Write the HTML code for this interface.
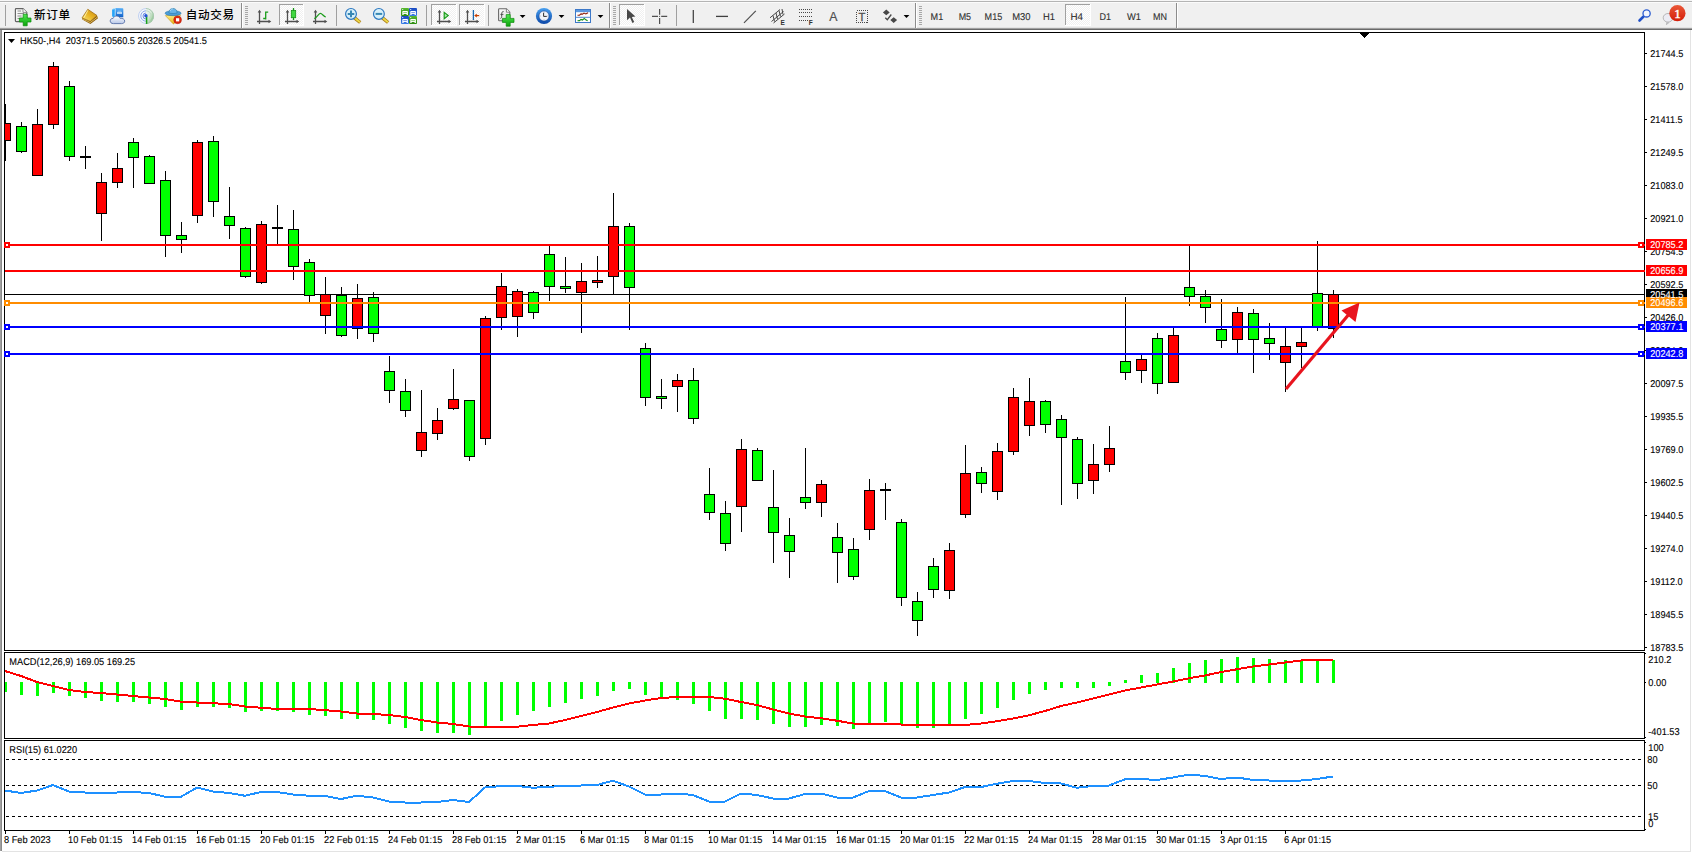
<!DOCTYPE html>
<html lang="zh"><head><meta charset="utf-8"><title>HK50-,H4</title>
<style>
html,body{margin:0;padding:0;background:#fff;overflow:hidden}
body{width:1692px;height:853px;position:relative;font-family:"Liberation Sans", "Noto Sans CJK SC", sans-serif}
svg{position:absolute;left:0;top:0;display:block}
text{font-family:"Liberation Sans", "Noto Sans CJK SC", sans-serif}
.t{font-size:9.9px;fill:#000;stroke:#000;stroke-width:.1px;text-rendering:geometricPrecision}
.tb{font-size:9.9px;fill:#303030;stroke:#303030;stroke-width:.12px;text-rendering:geometricPrecision}
.cn{font-size:11.6px;fill:#000;font-weight:500}
.w{fill:#fff;stroke:#fff}
</style></head><body>
<svg width="1692" height="853" viewBox="0 0 1692 853">

<g shape-rendering="crispEdges">
<rect x="0" y="0" width="1692" height="853" fill="#fff"/>
<rect x="0" y="0" width="1692" height="30" fill="#f0f0f0"/>
<rect x="0" y="0" width="1692" height="1" fill="#f7f7f7"/>
<rect x="0" y="1" width="1692" height="1" fill="#b4b4b4"/>
<rect x="0" y="2" width="1692" height="1" fill="#fbfbfb"/>
<rect x="0" y="27" width="1692" height="1" fill="#e3e3e3"/>
<rect x="0" y="28" width="1692" height="1" fill="#a0a0a0"/>
<rect x="0" y="29" width="1692" height="1" fill="#696969"/>
<rect x="0" y="30" width="2" height="823" fill="#a0a0a0"/>
<rect x="1" y="30" width="1" height="823" fill="#8a8a8a"/>
<rect x="1690" y="30" width="1" height="821" fill="#e3e3e3"/>
<rect x="2" y="851" width="1689" height="1" fill="#e3e3e3"/><rect x="0" y="851" width="2" height="2" fill="#fff"/>
<rect x="4" y="32" width="1641" height="1" fill="#000"/>
<rect x="4" y="650" width="1641" height="1" fill="#000"/>
<rect x="4" y="32" width="1" height="619" fill="#000"/>
<rect x="1644" y="32" width="1" height="619" fill="#000"/>
<rect x="4" y="652" width="1641" height="1" fill="#000"/>
<rect x="4" y="738" width="1641" height="1" fill="#000"/>
<rect x="4" y="652" width="1" height="87" fill="#000"/>
<rect x="1644" y="652" width="1" height="87" fill="#000"/>
<rect x="4" y="740" width="1641" height="1" fill="#000"/>
<rect x="4" y="830" width="1641" height="1" fill="#000"/>
<rect x="4" y="740" width="1" height="91" fill="#000"/>
<rect x="1644" y="740" width="1" height="91" fill="#000"/>
<rect x="1645" y="53" width="2" height="1" fill="#000"/>
<rect x="1645" y="86" width="2" height="1" fill="#000"/>
<rect x="1645" y="119" width="2" height="1" fill="#000"/>
<rect x="1645" y="152" width="2" height="1" fill="#000"/>
<rect x="1645" y="185" width="2" height="1" fill="#000"/>
<rect x="1645" y="218" width="2" height="1" fill="#000"/>
<rect x="1645" y="251" width="2" height="1" fill="#000"/>
<rect x="1645" y="284" width="2" height="1" fill="#000"/>
<rect x="1645" y="317" width="2" height="1" fill="#000"/>
<rect x="1645" y="350" width="2" height="1" fill="#000"/>
<rect x="1645" y="383" width="2" height="1" fill="#000"/>
<rect x="1645" y="416" width="2" height="1" fill="#000"/>
<rect x="1645" y="449" width="2" height="1" fill="#000"/>
<rect x="1645" y="482" width="2" height="1" fill="#000"/>
<rect x="1645" y="515" width="2" height="1" fill="#000"/>
<rect x="1645" y="548" width="2" height="1" fill="#000"/>
<rect x="1645" y="581" width="2" height="1" fill="#000"/>
<rect x="1645" y="614" width="2" height="1" fill="#000"/>
<rect x="1645" y="647" width="2" height="1" fill="#000"/>
<rect x="1645" y="653" width="1" height="1" fill="#000"/>
<rect x="1645" y="682" width="1" height="1" fill="#000"/>
<rect x="1645" y="737" width="1" height="1" fill="#000"/>
<rect x="1645" y="742" width="1" height="1" fill="#000"/>
<rect x="1645" y="829" width="1" height="1" fill="#000"/>
<rect x="5" y="831" width="1" height="3" fill="#000"/>
<rect x="69" y="831" width="1" height="3" fill="#000"/>
<rect x="133" y="831" width="1" height="3" fill="#000"/>
<rect x="197" y="831" width="1" height="3" fill="#000"/>
<rect x="261" y="831" width="1" height="3" fill="#000"/>
<rect x="325" y="831" width="1" height="3" fill="#000"/>
<rect x="389" y="831" width="1" height="3" fill="#000"/>
<rect x="453" y="831" width="1" height="3" fill="#000"/>
<rect x="517" y="831" width="1" height="3" fill="#000"/>
<rect x="581" y="831" width="1" height="3" fill="#000"/>
<rect x="645" y="831" width="1" height="3" fill="#000"/>
<rect x="709" y="831" width="1" height="3" fill="#000"/>
<rect x="773" y="831" width="1" height="3" fill="#000"/>
<rect x="837" y="831" width="1" height="3" fill="#000"/>
<rect x="901" y="831" width="1" height="3" fill="#000"/>
<rect x="965" y="831" width="1" height="3" fill="#000"/>
<rect x="1029" y="831" width="1" height="3" fill="#000"/>
<rect x="1093" y="831" width="1" height="3" fill="#000"/>
<rect x="1157" y="831" width="1" height="3" fill="#000"/>
<rect x="1221" y="831" width="1" height="3" fill="#000"/>
<rect x="1285" y="831" width="1" height="3" fill="#000"/>
<rect x="5" y="294" width="1639" height="1" fill="#000"/>
<rect x="5" y="104" width="1" height="57" fill="#000"/>
<rect x="5" y="123" width="6" height="18" fill="#000"/>
<rect x="5" y="124" width="5" height="16" fill="#ff0000"/>
<rect x="21" y="122" width="1" height="31" fill="#000"/>
<rect x="16" y="126" width="11" height="26" fill="#000"/>
<rect x="17" y="127" width="9" height="24" fill="#00ff00"/>
<rect x="37" y="109" width="1" height="67" fill="#000"/>
<rect x="32" y="124" width="11" height="52" fill="#000"/>
<rect x="33" y="125" width="9" height="50" fill="#ff0000"/>
<rect x="53" y="62" width="1" height="67" fill="#000"/>
<rect x="48" y="66" width="11" height="59" fill="#000"/>
<rect x="49" y="67" width="9" height="57" fill="#ff0000"/>
<rect x="69" y="81" width="1" height="80" fill="#000"/>
<rect x="64" y="86" width="11" height="71" fill="#000"/>
<rect x="65" y="87" width="9" height="69" fill="#00ff00"/>
<rect x="85" y="146" width="1" height="23" fill="#000"/>
<rect x="80" y="156" width="11" height="2" fill="#000"/>
<rect x="101" y="173" width="1" height="68" fill="#000"/>
<rect x="96" y="182" width="11" height="32" fill="#000"/>
<rect x="97" y="183" width="9" height="30" fill="#ff0000"/>
<rect x="117" y="153" width="1" height="35" fill="#000"/>
<rect x="112" y="168" width="11" height="15" fill="#000"/>
<rect x="113" y="169" width="9" height="13" fill="#ff0000"/>
<rect x="133" y="138" width="1" height="50" fill="#000"/>
<rect x="128" y="142" width="11" height="16" fill="#000"/>
<rect x="129" y="143" width="9" height="14" fill="#00ff00"/>
<rect x="149" y="155" width="1" height="29" fill="#000"/>
<rect x="144" y="156" width="11" height="28" fill="#000"/>
<rect x="145" y="157" width="9" height="26" fill="#00ff00"/>
<rect x="165" y="171" width="1" height="86" fill="#000"/>
<rect x="160" y="180" width="11" height="56" fill="#000"/>
<rect x="161" y="181" width="9" height="54" fill="#00ff00"/>
<rect x="181" y="222" width="1" height="31" fill="#000"/>
<rect x="176" y="235" width="11" height="5" fill="#000"/>
<rect x="177" y="236" width="9" height="3" fill="#00ff00"/>
<rect x="197" y="140" width="1" height="83" fill="#000"/>
<rect x="192" y="142" width="11" height="74" fill="#000"/>
<rect x="193" y="143" width="9" height="72" fill="#ff0000"/>
<rect x="213" y="136" width="1" height="81" fill="#000"/>
<rect x="208" y="141" width="11" height="61" fill="#000"/>
<rect x="209" y="142" width="9" height="59" fill="#00ff00"/>
<rect x="229" y="187" width="1" height="52" fill="#000"/>
<rect x="224" y="216" width="11" height="10" fill="#000"/>
<rect x="225" y="217" width="9" height="8" fill="#00ff00"/>
<rect x="245" y="227" width="1" height="51" fill="#000"/>
<rect x="240" y="228" width="11" height="49" fill="#000"/>
<rect x="241" y="229" width="9" height="47" fill="#00ff00"/>
<rect x="261" y="221" width="1" height="63" fill="#000"/>
<rect x="256" y="224" width="11" height="59" fill="#000"/>
<rect x="257" y="225" width="9" height="57" fill="#ff0000"/>
<rect x="277" y="205" width="1" height="39" fill="#000"/>
<rect x="272" y="227" width="11" height="2" fill="#000"/>
<rect x="293" y="210" width="1" height="70" fill="#000"/>
<rect x="288" y="229" width="11" height="38" fill="#000"/>
<rect x="289" y="230" width="9" height="36" fill="#00ff00"/>
<rect x="309" y="259" width="1" height="43" fill="#000"/>
<rect x="304" y="262" width="11" height="34" fill="#000"/>
<rect x="305" y="263" width="9" height="32" fill="#00ff00"/>
<rect x="325" y="277" width="1" height="57" fill="#000"/>
<rect x="320" y="294" width="11" height="22" fill="#000"/>
<rect x="321" y="295" width="9" height="20" fill="#ff0000"/>
<rect x="341" y="287" width="1" height="50" fill="#000"/>
<rect x="336" y="295" width="11" height="41" fill="#000"/>
<rect x="337" y="296" width="9" height="39" fill="#00ff00"/>
<rect x="357" y="284" width="1" height="55" fill="#000"/>
<rect x="352" y="298" width="11" height="31" fill="#000"/>
<rect x="353" y="299" width="9" height="29" fill="#ff0000"/>
<rect x="373" y="292" width="1" height="50" fill="#000"/>
<rect x="368" y="297" width="11" height="37" fill="#000"/>
<rect x="369" y="298" width="9" height="35" fill="#00ff00"/>
<rect x="389" y="356" width="1" height="47" fill="#000"/>
<rect x="384" y="371" width="11" height="20" fill="#000"/>
<rect x="385" y="372" width="9" height="18" fill="#00ff00"/>
<rect x="405" y="379" width="1" height="38" fill="#000"/>
<rect x="400" y="391" width="11" height="20" fill="#000"/>
<rect x="401" y="392" width="9" height="18" fill="#00ff00"/>
<rect x="421" y="390" width="1" height="67" fill="#000"/>
<rect x="416" y="432" width="11" height="19" fill="#000"/>
<rect x="417" y="433" width="9" height="17" fill="#ff0000"/>
<rect x="437" y="408" width="1" height="32" fill="#000"/>
<rect x="432" y="420" width="11" height="14" fill="#000"/>
<rect x="433" y="421" width="9" height="12" fill="#ff0000"/>
<rect x="453" y="369" width="1" height="41" fill="#000"/>
<rect x="448" y="399" width="11" height="10" fill="#000"/>
<rect x="449" y="400" width="9" height="8" fill="#ff0000"/>
<rect x="469" y="400" width="1" height="61" fill="#000"/>
<rect x="464" y="400" width="11" height="57" fill="#000"/>
<rect x="465" y="401" width="9" height="55" fill="#00ff00"/>
<rect x="485" y="316" width="1" height="129" fill="#000"/>
<rect x="480" y="318" width="11" height="121" fill="#000"/>
<rect x="481" y="319" width="9" height="119" fill="#ff0000"/>
<rect x="501" y="273" width="1" height="57" fill="#000"/>
<rect x="496" y="286" width="11" height="32" fill="#000"/>
<rect x="497" y="287" width="9" height="30" fill="#ff0000"/>
<rect x="517" y="289" width="1" height="48" fill="#000"/>
<rect x="512" y="291" width="11" height="26" fill="#000"/>
<rect x="513" y="292" width="9" height="24" fill="#ff0000"/>
<rect x="533" y="291" width="1" height="28" fill="#000"/>
<rect x="528" y="292" width="11" height="21" fill="#000"/>
<rect x="529" y="293" width="9" height="19" fill="#00ff00"/>
<rect x="549" y="246" width="1" height="55" fill="#000"/>
<rect x="544" y="254" width="11" height="33" fill="#000"/>
<rect x="545" y="255" width="9" height="31" fill="#00ff00"/>
<rect x="565" y="257" width="1" height="36" fill="#000"/>
<rect x="560" y="286" width="11" height="3" fill="#000"/>
<rect x="561" y="287" width="9" height="1" fill="#00ff00"/>
<rect x="581" y="263" width="1" height="70" fill="#000"/>
<rect x="576" y="281" width="11" height="12" fill="#000"/>
<rect x="577" y="282" width="9" height="10" fill="#ff0000"/>
<rect x="597" y="256" width="1" height="32" fill="#000"/>
<rect x="592" y="280" width="11" height="3" fill="#000"/>
<rect x="593" y="281" width="9" height="1" fill="#ff0000"/>
<rect x="613" y="193" width="1" height="101" fill="#000"/>
<rect x="608" y="226" width="11" height="51" fill="#000"/>
<rect x="609" y="227" width="9" height="49" fill="#ff0000"/>
<rect x="629" y="223" width="1" height="107" fill="#000"/>
<rect x="624" y="226" width="11" height="62" fill="#000"/>
<rect x="625" y="227" width="9" height="60" fill="#00ff00"/>
<rect x="645" y="343" width="1" height="63" fill="#000"/>
<rect x="640" y="348" width="11" height="50" fill="#000"/>
<rect x="641" y="349" width="9" height="48" fill="#00ff00"/>
<rect x="661" y="379" width="1" height="30" fill="#000"/>
<rect x="656" y="396" width="11" height="3" fill="#000"/>
<rect x="657" y="397" width="9" height="1" fill="#00ff00"/>
<rect x="677" y="374" width="1" height="38" fill="#000"/>
<rect x="672" y="380" width="11" height="7" fill="#000"/>
<rect x="673" y="381" width="9" height="5" fill="#ff0000"/>
<rect x="693" y="368" width="1" height="56" fill="#000"/>
<rect x="688" y="380" width="11" height="39" fill="#000"/>
<rect x="689" y="381" width="9" height="37" fill="#00ff00"/>
<rect x="709" y="468" width="1" height="52" fill="#000"/>
<rect x="704" y="494" width="11" height="19" fill="#000"/>
<rect x="705" y="495" width="9" height="17" fill="#00ff00"/>
<rect x="725" y="501" width="1" height="50" fill="#000"/>
<rect x="720" y="513" width="11" height="31" fill="#000"/>
<rect x="721" y="514" width="9" height="29" fill="#00ff00"/>
<rect x="741" y="439" width="1" height="93" fill="#000"/>
<rect x="736" y="449" width="11" height="58" fill="#000"/>
<rect x="737" y="450" width="9" height="56" fill="#ff0000"/>
<rect x="757" y="448" width="1" height="33" fill="#000"/>
<rect x="752" y="450" width="11" height="31" fill="#000"/>
<rect x="753" y="451" width="9" height="29" fill="#00ff00"/>
<rect x="773" y="470" width="1" height="93" fill="#000"/>
<rect x="768" y="507" width="11" height="26" fill="#000"/>
<rect x="769" y="508" width="9" height="24" fill="#00ff00"/>
<rect x="789" y="518" width="1" height="60" fill="#000"/>
<rect x="784" y="535" width="11" height="17" fill="#000"/>
<rect x="785" y="536" width="9" height="15" fill="#00ff00"/>
<rect x="805" y="448" width="1" height="61" fill="#000"/>
<rect x="800" y="497" width="11" height="6" fill="#000"/>
<rect x="801" y="498" width="9" height="4" fill="#00ff00"/>
<rect x="821" y="480" width="1" height="37" fill="#000"/>
<rect x="816" y="484" width="11" height="19" fill="#000"/>
<rect x="817" y="485" width="9" height="17" fill="#ff0000"/>
<rect x="837" y="523" width="1" height="60" fill="#000"/>
<rect x="832" y="537" width="11" height="16" fill="#000"/>
<rect x="833" y="538" width="9" height="14" fill="#00ff00"/>
<rect x="853" y="538" width="1" height="42" fill="#000"/>
<rect x="848" y="549" width="11" height="28" fill="#000"/>
<rect x="849" y="550" width="9" height="26" fill="#00ff00"/>
<rect x="869" y="479" width="1" height="61" fill="#000"/>
<rect x="864" y="490" width="11" height="40" fill="#000"/>
<rect x="865" y="491" width="9" height="38" fill="#ff0000"/>
<rect x="885" y="483" width="1" height="37" fill="#000"/>
<rect x="880" y="489" width="11" height="2" fill="#000"/>
<rect x="901" y="519" width="1" height="87" fill="#000"/>
<rect x="896" y="522" width="11" height="76" fill="#000"/>
<rect x="897" y="523" width="9" height="74" fill="#00ff00"/>
<rect x="917" y="592" width="1" height="44" fill="#000"/>
<rect x="912" y="601" width="11" height="20" fill="#000"/>
<rect x="913" y="602" width="9" height="18" fill="#00ff00"/>
<rect x="933" y="558" width="1" height="40" fill="#000"/>
<rect x="928" y="566" width="11" height="24" fill="#000"/>
<rect x="929" y="567" width="9" height="22" fill="#00ff00"/>
<rect x="949" y="543" width="1" height="56" fill="#000"/>
<rect x="944" y="550" width="11" height="41" fill="#000"/>
<rect x="945" y="551" width="9" height="39" fill="#ff0000"/>
<rect x="965" y="445" width="1" height="73" fill="#000"/>
<rect x="960" y="473" width="11" height="42" fill="#000"/>
<rect x="961" y="474" width="9" height="40" fill="#ff0000"/>
<rect x="981" y="467" width="1" height="26" fill="#000"/>
<rect x="976" y="472" width="11" height="12" fill="#000"/>
<rect x="977" y="473" width="9" height="10" fill="#00ff00"/>
<rect x="997" y="443" width="1" height="57" fill="#000"/>
<rect x="992" y="451" width="11" height="41" fill="#000"/>
<rect x="993" y="452" width="9" height="39" fill="#ff0000"/>
<rect x="1013" y="388" width="1" height="67" fill="#000"/>
<rect x="1008" y="397" width="11" height="55" fill="#000"/>
<rect x="1009" y="398" width="9" height="53" fill="#ff0000"/>
<rect x="1029" y="378" width="1" height="58" fill="#000"/>
<rect x="1024" y="401" width="11" height="25" fill="#000"/>
<rect x="1025" y="402" width="9" height="23" fill="#ff0000"/>
<rect x="1045" y="400" width="1" height="33" fill="#000"/>
<rect x="1040" y="401" width="11" height="24" fill="#000"/>
<rect x="1041" y="402" width="9" height="22" fill="#00ff00"/>
<rect x="1061" y="415" width="1" height="90" fill="#000"/>
<rect x="1056" y="419" width="11" height="19" fill="#000"/>
<rect x="1057" y="420" width="9" height="17" fill="#00ff00"/>
<rect x="1077" y="437" width="1" height="62" fill="#000"/>
<rect x="1072" y="439" width="11" height="45" fill="#000"/>
<rect x="1073" y="440" width="9" height="43" fill="#00ff00"/>
<rect x="1093" y="444" width="1" height="50" fill="#000"/>
<rect x="1088" y="464" width="11" height="17" fill="#000"/>
<rect x="1089" y="465" width="9" height="15" fill="#ff0000"/>
<rect x="1109" y="426" width="1" height="46" fill="#000"/>
<rect x="1104" y="448" width="11" height="17" fill="#000"/>
<rect x="1105" y="449" width="9" height="15" fill="#ff0000"/>
<rect x="1125" y="297" width="1" height="83" fill="#000"/>
<rect x="1120" y="361" width="11" height="12" fill="#000"/>
<rect x="1121" y="362" width="9" height="10" fill="#00ff00"/>
<rect x="1141" y="355" width="1" height="28" fill="#000"/>
<rect x="1136" y="359" width="11" height="12" fill="#000"/>
<rect x="1137" y="360" width="9" height="10" fill="#ff0000"/>
<rect x="1157" y="333" width="1" height="61" fill="#000"/>
<rect x="1152" y="338" width="11" height="46" fill="#000"/>
<rect x="1153" y="339" width="9" height="44" fill="#00ff00"/>
<rect x="1173" y="328" width="1" height="55" fill="#000"/>
<rect x="1168" y="335" width="11" height="48" fill="#000"/>
<rect x="1169" y="336" width="9" height="46" fill="#ff0000"/>
<rect x="1189" y="244" width="1" height="62" fill="#000"/>
<rect x="1184" y="287" width="11" height="10" fill="#000"/>
<rect x="1185" y="288" width="9" height="8" fill="#00ff00"/>
<rect x="1205" y="290" width="1" height="33" fill="#000"/>
<rect x="1200" y="296" width="11" height="12" fill="#000"/>
<rect x="1201" y="297" width="9" height="10" fill="#00ff00"/>
<rect x="1221" y="299" width="1" height="49" fill="#000"/>
<rect x="1216" y="329" width="11" height="12" fill="#000"/>
<rect x="1217" y="330" width="9" height="10" fill="#00ff00"/>
<rect x="1237" y="307" width="1" height="46" fill="#000"/>
<rect x="1232" y="312" width="11" height="28" fill="#000"/>
<rect x="1233" y="313" width="9" height="26" fill="#ff0000"/>
<rect x="1253" y="309" width="1" height="64" fill="#000"/>
<rect x="1248" y="313" width="11" height="27" fill="#000"/>
<rect x="1249" y="314" width="9" height="25" fill="#00ff00"/>
<rect x="1269" y="323" width="1" height="37" fill="#000"/>
<rect x="1264" y="338" width="11" height="6" fill="#000"/>
<rect x="1265" y="339" width="9" height="4" fill="#00ff00"/>
<rect x="1285" y="327" width="1" height="65" fill="#000"/>
<rect x="1280" y="346" width="11" height="17" fill="#000"/>
<rect x="1281" y="347" width="9" height="15" fill="#ff0000"/>
<rect x="1301" y="328" width="1" height="40" fill="#000"/>
<rect x="1296" y="342" width="11" height="5" fill="#000"/>
<rect x="1297" y="343" width="9" height="3" fill="#ff0000"/>
<rect x="1317" y="241" width="1" height="90" fill="#000"/>
<rect x="1312" y="293" width="11" height="34" fill="#000"/>
<rect x="1313" y="294" width="9" height="32" fill="#00ff00"/>
<rect x="1333" y="290" width="1" height="48" fill="#000"/>
<rect x="1328" y="294" width="11" height="35" fill="#000"/>
<rect x="1329" y="295" width="9" height="33" fill="#ff0000"/>
<rect x="5" y="244" width="1640" height="2" fill="#ff0000"/>
<rect x="4" y="242" width="6" height="6" fill="#ff0000"/>
<rect x="6" y="244" width="2" height="2" fill="#fff"/>
<rect x="1638" y="242" width="6" height="6" fill="#ff0000"/>
<rect x="1640" y="244" width="2" height="2" fill="#fff"/>
<rect x="5" y="270" width="1640" height="2" fill="#ff0000"/>
<rect x="5" y="302" width="1640" height="2" fill="#ff8c00"/>
<rect x="4" y="300" width="6" height="6" fill="#ff8c00"/>
<rect x="6" y="302" width="2" height="2" fill="#fff"/>
<rect x="1638" y="300" width="6" height="6" fill="#ff8c00"/>
<rect x="1640" y="302" width="2" height="2" fill="#fff"/>
<rect x="5" y="326" width="1640" height="2" fill="#0000ff"/>
<rect x="4" y="324" width="6" height="6" fill="#0000ff"/>
<rect x="6" y="326" width="2" height="2" fill="#fff"/>
<rect x="1638" y="324" width="6" height="6" fill="#0000ff"/>
<rect x="1640" y="326" width="2" height="2" fill="#fff"/>
<rect x="5" y="353" width="1640" height="2" fill="#0000ff"/>
<rect x="4" y="351" width="6" height="6" fill="#0000ff"/>
<rect x="6" y="353" width="2" height="2" fill="#fff"/>
<rect x="1638" y="351" width="6" height="6" fill="#0000ff"/>
<rect x="1640" y="353" width="2" height="2" fill="#fff"/>
<rect x="5" y="682" width="2" height="10" fill="#00ff00"/>
<rect x="20" y="682" width="3" height="13" fill="#00ff00"/>
<rect x="36" y="682" width="3" height="14" fill="#00ff00"/>
<rect x="52" y="682" width="3" height="11" fill="#00ff00"/>
<rect x="68" y="682" width="3" height="14" fill="#00ff00"/>
<rect x="84" y="682" width="3" height="16" fill="#00ff00"/>
<rect x="100" y="682" width="3" height="19" fill="#00ff00"/>
<rect x="116" y="682" width="3" height="20" fill="#00ff00"/>
<rect x="132" y="682" width="3" height="20" fill="#00ff00"/>
<rect x="148" y="682" width="3" height="22" fill="#00ff00"/>
<rect x="164" y="682" width="3" height="25" fill="#00ff00"/>
<rect x="180" y="682" width="3" height="28" fill="#00ff00"/>
<rect x="196" y="682" width="3" height="25" fill="#00ff00"/>
<rect x="212" y="682" width="3" height="25" fill="#00ff00"/>
<rect x="228" y="682" width="3" height="26" fill="#00ff00"/>
<rect x="244" y="682" width="3" height="30" fill="#00ff00"/>
<rect x="260" y="682" width="3" height="29" fill="#00ff00"/>
<rect x="276" y="682" width="3" height="29" fill="#00ff00"/>
<rect x="292" y="682" width="3" height="30" fill="#00ff00"/>
<rect x="308" y="682" width="3" height="33" fill="#00ff00"/>
<rect x="324" y="682" width="3" height="34" fill="#00ff00"/>
<rect x="340" y="682" width="3" height="37" fill="#00ff00"/>
<rect x="356" y="682" width="3" height="37" fill="#00ff00"/>
<rect x="372" y="682" width="3" height="38" fill="#00ff00"/>
<rect x="388" y="682" width="3" height="42" fill="#00ff00"/>
<rect x="404" y="682" width="3" height="46" fill="#00ff00"/>
<rect x="420" y="682" width="3" height="49" fill="#00ff00"/>
<rect x="436" y="682" width="3" height="51" fill="#00ff00"/>
<rect x="452" y="682" width="3" height="51" fill="#00ff00"/>
<rect x="468" y="682" width="3" height="53" fill="#00ff00"/>
<rect x="484" y="682" width="3" height="44" fill="#00ff00"/>
<rect x="500" y="682" width="3" height="39" fill="#00ff00"/>
<rect x="516" y="682" width="3" height="33" fill="#00ff00"/>
<rect x="532" y="682" width="3" height="29" fill="#00ff00"/>
<rect x="548" y="682" width="3" height="25" fill="#00ff00"/>
<rect x="564" y="682" width="3" height="21" fill="#00ff00"/>
<rect x="580" y="682" width="3" height="17" fill="#00ff00"/>
<rect x="596" y="682" width="3" height="14" fill="#00ff00"/>
<rect x="612" y="682" width="3" height="9" fill="#00ff00"/>
<rect x="628" y="682" width="3" height="7" fill="#00ff00"/>
<rect x="644" y="682" width="3" height="13" fill="#00ff00"/>
<rect x="660" y="682" width="3" height="16" fill="#00ff00"/>
<rect x="676" y="682" width="3" height="18" fill="#00ff00"/>
<rect x="692" y="682" width="3" height="22" fill="#00ff00"/>
<rect x="708" y="682" width="3" height="29" fill="#00ff00"/>
<rect x="724" y="682" width="3" height="37" fill="#00ff00"/>
<rect x="740" y="682" width="3" height="37" fill="#00ff00"/>
<rect x="756" y="682" width="3" height="38" fill="#00ff00"/>
<rect x="772" y="682" width="3" height="42" fill="#00ff00"/>
<rect x="788" y="682" width="3" height="45" fill="#00ff00"/>
<rect x="804" y="682" width="3" height="45" fill="#00ff00"/>
<rect x="820" y="682" width="3" height="43" fill="#00ff00"/>
<rect x="836" y="682" width="3" height="44" fill="#00ff00"/>
<rect x="852" y="682" width="3" height="47" fill="#00ff00"/>
<rect x="868" y="682" width="3" height="41" fill="#00ff00"/>
<rect x="884" y="682" width="3" height="40" fill="#00ff00"/>
<rect x="900" y="682" width="3" height="42" fill="#00ff00"/>
<rect x="916" y="682" width="3" height="46" fill="#00ff00"/>
<rect x="932" y="682" width="3" height="46" fill="#00ff00"/>
<rect x="948" y="682" width="3" height="42" fill="#00ff00"/>
<rect x="964" y="682" width="3" height="37" fill="#00ff00"/>
<rect x="980" y="682" width="3" height="32" fill="#00ff00"/>
<rect x="996" y="682" width="3" height="26" fill="#00ff00"/>
<rect x="1012" y="682" width="3" height="18" fill="#00ff00"/>
<rect x="1028" y="682" width="3" height="12" fill="#00ff00"/>
<rect x="1044" y="682" width="3" height="8" fill="#00ff00"/>
<rect x="1060" y="682" width="3" height="6" fill="#00ff00"/>
<rect x="1076" y="682" width="3" height="6" fill="#00ff00"/>
<rect x="1092" y="682" width="3" height="6" fill="#00ff00"/>
<rect x="1108" y="682" width="3" height="4" fill="#00ff00"/>
<rect x="1124" y="680" width="3" height="3" fill="#00ff00"/>
<rect x="1140" y="675" width="3" height="8" fill="#00ff00"/>
<rect x="1156" y="673" width="3" height="10" fill="#00ff00"/>
<rect x="1172" y="668" width="3" height="15" fill="#00ff00"/>
<rect x="1188" y="663" width="3" height="20" fill="#00ff00"/>
<rect x="1204" y="660" width="3" height="23" fill="#00ff00"/>
<rect x="1220" y="659" width="3" height="24" fill="#00ff00"/>
<rect x="1236" y="657" width="3" height="26" fill="#00ff00"/>
<rect x="1252" y="658" width="3" height="25" fill="#00ff00"/>
<rect x="1268" y="659" width="3" height="24" fill="#00ff00"/>
<rect x="1284" y="660" width="3" height="23" fill="#00ff00"/>
<rect x="1300" y="660" width="3" height="23" fill="#00ff00"/>
<rect x="1316" y="660" width="3" height="23" fill="#00ff00"/>
<rect x="1332" y="660" width="3" height="23" fill="#00ff00"/>
<path d="M6 759.5H1644" stroke="#000" stroke-width="1" stroke-dasharray="3 3" fill="none"/>
<path d="M6 785.5H1644" stroke="#000" stroke-width="1" stroke-dasharray="3 3" fill="none"/>
<path d="M6 816.5H1644" stroke="#000" stroke-width="1" stroke-dasharray="3 3" fill="none"/>
</g>
<polyline points="5,671 21,676 37,682 53,686 69,690 85,692 101,693 117,694.5 133,696 149,697.5 165,699 181,701.75 197,702.5 213,703.3 229,704 245,706.5 261,707.75 277,709 293,709 309,709 325,710.2 341,711.5 357,713.5 373,714 389,715 405,717 421,720 437,722.5 453,724 469,726.5 485,726.75 501,726.75 517,726.75 533,725 549,723.5 565,720 581,716 597,712 613,707.5 629,703.5 645,700.5 661,698 677,697 693,696.75 709,697 725,698.75 741,702 757,705 773,709.5 789,713.5 805,716.5 821,718.25 837,720.75 853,723.5 869,723.75 885,723.75 901,724.5 917,725 933,725 949,725 965,725 981,723.5 997,721.25 1013,718.5 1029,715.25 1045,711 1061,706 1077,702.5 1093,698.5 1109,694.5 1125,690.5 1141,687.5 1157,684.5 1173,681.5 1189,678.25 1205,675.5 1221,672 1237,669.25 1253,666.5 1269,664.5 1285,662.5 1301,660.5 1317,660 1333,660" fill="none" stroke="#ff0000" stroke-width="2" shape-rendering="crispEdges"/>
<polyline points="5,790.5 21,793 37,790.5 53,785 69,791.5 85,792.5 101,793 117,792.5 133,792 149,793 165,796.75 181,796.75 197,787.5 213,791.5 229,793 245,795.75 261,792 277,792 293,794.5 309,795.75 325,796 341,799 357,795.75 373,797.5 389,801.5 405,802.5 421,802.5 437,802 453,800 469,802 485,787.5 501,786 517,786 533,787.75 549,786.75 565,786 581,785.5 597,785 613,780.75 629,786.5 645,794.5 661,794.5 677,793.5 693,795 709,801.5 725,801.5 741,793.5 757,795 773,798.5 789,798.5 805,794 821,793.5 837,797.5 853,797.5 869,791 885,791 901,797.5 917,797.5 933,795 949,792.5 965,787 981,787 997,783.75 1013,781 1029,781 1045,783 1061,783.5 1077,787.75 1093,786 1109,785.5 1125,779.25 1141,779 1157,780 1173,777.5 1189,774.5 1205,776 1221,779 1237,777.5 1253,780 1269,780.5 1285,781 1301,780.5 1317,779 1333,776.5" fill="none" stroke="#1e90ff" stroke-width="2" shape-rendering="crispEdges"/>
<path d="M1286 389 L1350 313" stroke="#e8141e" stroke-width="3.2" fill="none"/>
<path d="M1359.5 302.5 L1341.5 310.5 L1355.5 322 Z" fill="#e8141e"/>
<path d="M1360 33h9v1h-1v1h-1v1h-1v1h-1v1h-1v-1h-1v-1h-1v-1h-1v-1h-1z" fill="#000" shape-rendering="crispEdges"/>
<text class="t" transform="translate(1650.2 57) scale(0.928 1)" xml:space="preserve">21744.5</text>
<text class="t" transform="translate(1650.2 90) scale(0.928 1)" xml:space="preserve">21578.0</text>
<text class="t" transform="translate(1650.2 123) scale(0.928 1)" xml:space="preserve">21411.5</text>
<text class="t" transform="translate(1650.2 156) scale(0.928 1)" xml:space="preserve">21249.5</text>
<text class="t" transform="translate(1650.2 189) scale(0.928 1)" xml:space="preserve">21083.0</text>
<text class="t" transform="translate(1650.2 222) scale(0.928 1)" xml:space="preserve">20921.0</text>
<text class="t" transform="translate(1650.2 255) scale(0.928 1)" xml:space="preserve">20754.5</text>
<text class="t" transform="translate(1650.2 288) scale(0.928 1)" xml:space="preserve">20592.5</text>
<text class="t" transform="translate(1650.2 321) scale(0.928 1)" xml:space="preserve">20426.0</text>
<text class="t" transform="translate(1650.2 354) scale(0.928 1)" xml:space="preserve">20264.0</text>
<text class="t" transform="translate(1650.2 387) scale(0.928 1)" xml:space="preserve">20097.5</text>
<text class="t" transform="translate(1650.2 420) scale(0.928 1)" xml:space="preserve">19935.5</text>
<text class="t" transform="translate(1650.2 453) scale(0.928 1)" xml:space="preserve">19769.0</text>
<text class="t" transform="translate(1650.2 486) scale(0.928 1)" xml:space="preserve">19602.5</text>
<text class="t" transform="translate(1650.2 519) scale(0.928 1)" xml:space="preserve">19440.5</text>
<text class="t" transform="translate(1650.2 552) scale(0.928 1)" xml:space="preserve">19274.0</text>
<text class="t" transform="translate(1650.2 585) scale(0.928 1)" xml:space="preserve">19112.0</text>
<text class="t" transform="translate(1650.2 618) scale(0.928 1)" xml:space="preserve">18945.5</text>
<text class="t" transform="translate(1650.2 651) scale(0.928 1)" xml:space="preserve">18783.5</text>
<g shape-rendering="crispEdges">
<rect x="1646" y="289" width="41" height="11" fill="#000"/>
<rect x="1646" y="239" width="41" height="11" fill="#ff0000"/>
<rect x="1646" y="265" width="41" height="11" fill="#ff0000"/>
<rect x="1646" y="297" width="41" height="11" fill="#ff8c00"/>
<rect x="1646" y="321" width="41" height="11" fill="#0000ff"/>
<rect x="1646" y="348" width="41" height="11" fill="#0000ff"/>
</g>
<text class="t w" transform="translate(1650.2 298) scale(0.928 1)" xml:space="preserve">20541.5</text>
<text class="t w" transform="translate(1650.2 248) scale(0.928 1)" xml:space="preserve">20785.2</text>
<text class="t w" transform="translate(1650.2 274) scale(0.928 1)" xml:space="preserve">20656.9</text>
<text class="t w" transform="translate(1650.2 306) scale(0.928 1)" xml:space="preserve">20496.6</text>
<text class="t w" transform="translate(1650.2 330) scale(0.928 1)" xml:space="preserve">20377.1</text>
<text class="t w" transform="translate(1650.2 357) scale(0.928 1)" xml:space="preserve">20242.8</text>
<text class="t" transform="translate(1648.3 663) scale(0.935 1)" xml:space="preserve">210.2</text>
<text class="t" transform="translate(1648.3 686) scale(0.935 1)" xml:space="preserve">0.00</text>
<text class="t" transform="translate(1648.3 735) scale(0.935 1)" xml:space="preserve">-401.53</text>
<text class="t" transform="translate(1648.3 751) scale(0.935 1)" xml:space="preserve">100</text>
<text class="t" transform="translate(1647.3 763) scale(0.935 1)" xml:space="preserve">80</text>
<text class="t" transform="translate(1647.3 789) scale(0.935 1)" xml:space="preserve">50</text>
<text class="t" transform="translate(1648 820) scale(0.935 1)" xml:space="preserve">15</text>
<text class="t" transform="translate(1648.3 827) scale(0.935 1)" xml:space="preserve">0</text>
<text class="t" transform="translate(4 843) scale(0.935 1)" xml:space="preserve">8 Feb 2023</text>
<text class="t" transform="translate(68 843) scale(0.935 1)" xml:space="preserve">10 Feb 01:15</text>
<text class="t" transform="translate(132 843) scale(0.935 1)" xml:space="preserve">14 Feb 01:15</text>
<text class="t" transform="translate(196 843) scale(0.935 1)" xml:space="preserve">16 Feb 01:15</text>
<text class="t" transform="translate(260 843) scale(0.935 1)" xml:space="preserve">20 Feb 01:15</text>
<text class="t" transform="translate(324 843) scale(0.935 1)" xml:space="preserve">22 Feb 01:15</text>
<text class="t" transform="translate(388 843) scale(0.935 1)" xml:space="preserve">24 Feb 01:15</text>
<text class="t" transform="translate(452 843) scale(0.935 1)" xml:space="preserve">28 Feb 01:15</text>
<text class="t" transform="translate(516 843) scale(0.935 1)" xml:space="preserve">2 Mar 01:15</text>
<text class="t" transform="translate(580 843) scale(0.935 1)" xml:space="preserve">6 Mar 01:15</text>
<text class="t" transform="translate(644 843) scale(0.935 1)" xml:space="preserve">8 Mar 01:15</text>
<text class="t" transform="translate(708 843) scale(0.935 1)" xml:space="preserve">10 Mar 01:15</text>
<text class="t" transform="translate(772 843) scale(0.935 1)" xml:space="preserve">14 Mar 01:15</text>
<text class="t" transform="translate(836 843) scale(0.935 1)" xml:space="preserve">16 Mar 01:15</text>
<text class="t" transform="translate(900 843) scale(0.935 1)" xml:space="preserve">20 Mar 01:15</text>
<text class="t" transform="translate(964 843) scale(0.935 1)" xml:space="preserve">22 Mar 01:15</text>
<text class="t" transform="translate(1028 843) scale(0.935 1)" xml:space="preserve">24 Mar 01:15</text>
<text class="t" transform="translate(1092 843) scale(0.935 1)" xml:space="preserve">28 Mar 01:15</text>
<text class="t" transform="translate(1156 843) scale(0.935 1)" xml:space="preserve">30 Mar 01:15</text>
<text class="t" transform="translate(1220 843) scale(0.935 1)" xml:space="preserve">3 Apr 01:15</text>
<text class="t" transform="translate(1284 843) scale(0.935 1)" xml:space="preserve">6 Apr 01:15</text>
<path d="M8 39h7l-3.5 4z" fill="#000"/>
<text class="t" transform="translate(20 44) scale(0.935 1)" xml:space="preserve">HK50-,H4  20371.5 20560.5 20326.5 20541.5</text>
<text class="t" transform="translate(9.3 665) scale(0.935 1)" xml:space="preserve">MACD(12,26,9) 169.05 169.25</text>
<text class="t" transform="translate(9.3 753) scale(0.935 1)" xml:space="preserve">RSI(15) 61.0220</text>
<defs>
<linearGradient id="gGold" x1="0" y1="1" x2="1" y2="0"><stop offset="0" stop-color="#fbe878"/><stop offset=".5" stop-color="#e8b424"/><stop offset="1" stop-color="#c4840c"/></linearGradient>
<linearGradient id="gPlus" x1="0" y1="0" x2="0" y2="1"><stop offset="0" stop-color="#50e850"/><stop offset="1" stop-color="#0ca40c"/></linearGradient>
<linearGradient id="gDoc" x1="0" y1="0" x2="1" y2="1"><stop offset="0" stop-color="#ffffff"/><stop offset="1" stop-color="#dcdcdc"/></linearGradient>
<linearGradient id="gBlue" x1="0" y1="0" x2="0" y2="1"><stop offset="0" stop-color="#58b0f8"/><stop offset="1" stop-color="#1060c8"/></linearGradient>
<linearGradient id="gCloud" x1="0" y1="0" x2="0" y2="1"><stop offset="0" stop-color="#ffffff"/><stop offset="1" stop-color="#b8c8e8"/></linearGradient>
<linearGradient id="gRed" x1="0" y1="0" x2="0" y2="1"><stop offset="0" stop-color="#ea5838"/><stop offset="1" stop-color="#d41c08"/></linearGradient>
<linearGradient id="gGreenT" x1="0" y1="0" x2="0" y2="1"><stop offset="0" stop-color="#58b830"/><stop offset="1" stop-color="#2c8c10"/></linearGradient>
<linearGradient id="gBlueT" x1="0" y1="0" x2="0" y2="1"><stop offset="0" stop-color="#1848c0"/><stop offset="1" stop-color="#3c80e8"/></linearGradient>
<linearGradient id="gClock" x1="0" y1="0" x2="0" y2="1"><stop offset="0" stop-color="#48a0f0"/><stop offset="1" stop-color="#0c48a8"/></linearGradient>
<linearGradient id="gYel" x1="0" y1="0" x2="0" y2="1"><stop offset="0" stop-color="#fff088"/><stop offset="1" stop-color="#e8b010"/></linearGradient>
<pattern id="chk" width="2" height="2" patternUnits="userSpaceOnUse"><rect width="2" height="2" fill="#f0f0f0"/><rect width="1" height="1" fill="#fff"/><rect x="1" y="1" width="1" height="1" fill="#fff"/></pattern>
<linearGradient id="gSig" x1="0" y1="0" x2="1" y2="1"><stop offset="0" stop-color="#f4f6fa"/><stop offset=".45" stop-color="#d8ead8"/><stop offset="1" stop-color="#60b060"/></linearGradient>
</defs>
<rect x="5" y="5" width="1" height="21" fill="#a0a0a0" shape-rendering="crispEdges"/>
<path d="M16.200 8.600h6.800l3.800 3.800v8.400q0 .8-.8.800h-9.800q-.8 0-.8-.8v-11.400q0-.8.8-.8z" fill="url(#gDoc)" stroke="#646464" stroke-width="1.200"/>
<path d="M23 8.600v3.800h3.800" fill="#fff" stroke="#787878" stroke-width=".8"/>
<path d="M17.500 11h3.500M17.500 13.500h6.500M17.500 16h4M17.500 18.500h2.500" stroke="#909090" stroke-width="1"/>
<path d="M23.2 14.2h4v3.8h3.8v4h-3.8v3.8h-4v-3.8h-3.8v-4h3.8z" fill="url(#gPlus)" stroke="#0a8a0a" stroke-width=".7"/>
<text class="cn" x="34" y="19.300" textLength="36.200">新订单</text>
<path d="M82 17.900L90.200 21.300L97 15.500L98 18.300L90.400 23.900L82.300 19.400z" fill="#8c5c0c"/>
<path d="M82.400 18.800L90.300 22.500L97.600 17" stroke="#f0d470" stroke-width=".8" fill="none"/>
<path d="M87.800 9.300L97 15.500L90.200 21.300L82 17.900z" fill="url(#gGold)" stroke="#98640c" stroke-width=".7"/>
<path d="M87.900 10.300L84 17.600" stroke="#fff4b0" stroke-width=".9" fill="none"/>
<path d="M112.100 9.300L115.200 8.100V17.400L112.100 16.600z" fill="#28a4f8"/><path d="M115.200 8.100L122.600 8.300Q123.300 8.400 123.300 9.100V17.200H115.200z" fill="url(#gBlue)"/>
<path d="M112.300 9.400L115.200 8.300V17" stroke="#d8f0ff" stroke-width=".7" fill="none"/>
<path d="M117 13h5" stroke="#f0f8ff" stroke-width="1.400"/><path d="M117.500 11.200h4" stroke="#a8d8ff" stroke-width=".8"/>
<path d="M113.300 23.600c-2 0-3.100-1.200-3.100-2.700s1.300-2.700 2.900-2.500c.5-1.500 1.900-2.300 3.500-2.300 1.700 0 3.100.9 3.600 2.300 2.300-.4 4.500.8 4.500 2.700 0 1.700-1.400 2.500-3.100 2.500z" fill="url(#gCloud)" stroke="#5870a8" stroke-width=".9"/>
<circle cx="146" cy="16" r="8" fill="#f4f6fa"/>
<path d="M146 8a8 8 0 0 1 0 16z" fill="url(#gSig)"/>
<g fill="none" stroke-width="1"><path d="M146 8.500a7.500 7.500 0 0 0 0 15" stroke="#c0d0f0"/><path d="M146 10.800a5.200 5.200 0 0 0 0 10.400" stroke="#90acec"/><path d="M146 13a3 3 0 0 0 0 6" stroke="#7090e4"/>
<path d="M146 8.500a7.500 7.500 0 0 1 0 15" stroke="#a8c8b0"/><path d="M146 10.800a5.200 5.200 0 0 1 0 10.400" stroke="#c0dcc4"/></g>
<path d="M146.600 16.300v7.600" stroke="#18a018" stroke-width="1.500"/><circle cx="145.900" cy="15.700" r="1.700" fill="#2454d4"/>
<path d="M165.400 15.600L180.600 15L173.800 23.900Q173.400 24.100 173 23.700z" fill="url(#gYel)" stroke="#c89818" stroke-width=".6"/>
<ellipse cx="173.100" cy="13.200" rx="8" ry="2.500" fill="#4c9cd8" stroke="#2878a8" stroke-width=".6"/><path d="M168.900 12.800c0-2.700 1.800-4.400 4.100-4.400s4.100 1.700 4.100 4.400c-1.200.9-7 .9-8.200 0z" fill="#68b4e8" stroke="#2878a8" stroke-width=".6"/>
<path d="M170.300 10.800c.6-1.300 1.600-2 2.700-2" stroke="#b8e0f8" stroke-width=".8" fill="none"/>
<circle cx="177.600" cy="19.800" r="3.900" fill="#dc2c10"/><circle cx="177.600" cy="19.800" r="3.900" fill="none" stroke="#b01808" stroke-width=".5"/><rect x="176" y="18.200" width="3.200" height="3.200" fill="#fff"/>
<text class="cn" x="185.800" y="19.300" textLength="48.200">自动交易</text>
<rect x="241" y="3" width="1" height="25" fill="#8c8c8c" shape-rendering="crispEdges"/>
<rect x="242" y="3" width="1" height="25" fill="#fff" shape-rendering="crispEdges"/>
<rect x="245" y="6" width="3" height="1" fill="#a8a8a8" shape-rendering="crispEdges"/>
<rect x="245" y="8" width="3" height="1" fill="#a8a8a8" shape-rendering="crispEdges"/>
<rect x="245" y="10" width="3" height="1" fill="#a8a8a8" shape-rendering="crispEdges"/>
<rect x="245" y="12" width="3" height="1" fill="#a8a8a8" shape-rendering="crispEdges"/>
<rect x="245" y="14" width="3" height="1" fill="#a8a8a8" shape-rendering="crispEdges"/>
<rect x="245" y="16" width="3" height="1" fill="#a8a8a8" shape-rendering="crispEdges"/>
<rect x="245" y="18" width="3" height="1" fill="#a8a8a8" shape-rendering="crispEdges"/>
<rect x="245" y="20" width="3" height="1" fill="#a8a8a8" shape-rendering="crispEdges"/>
<rect x="245" y="22" width="3" height="1" fill="#a8a8a8" shape-rendering="crispEdges"/>
<rect x="245" y="24" width="3" height="1" fill="#a8a8a8" shape-rendering="crispEdges"/>
<g stroke="#505050" stroke-width="1.3" fill="none"><path d="M259.5 11V24M257.0 21.5H269.5"/></g>
<path d="M257.7 12.6L259.5 9.8L261.3 12.6zM268.5 19.7L271.3 21.5L268.5 23.3z" fill="#505050"/>
<path d="M265.700 11.500V19.500M265.700 12.200h2.500M263.200 18.500h2.500" stroke="#1a9c1a" stroke-width="1.300" fill="none"/>
<g shape-rendering="crispEdges"><rect x="279" y="4" width="25" height="22" fill="url(#chk)"/><rect x="279" y="4" width="25" height="1" fill="#a0a0a0"/><rect x="279" y="4" width="1" height="22" fill="#a0a0a0"/><rect x="279" y="25" width="25" height="1" fill="#fff"/><rect x="303" y="4" width="1" height="22" fill="#fff"/></g>
<g stroke="#505050" stroke-width="1.3" fill="none"><path d="M287.5 11V24M285.0 21.5H297.5"/></g>
<path d="M285.7 12.6L287.5 9.8L289.3 12.6zM296.5 19.7L299.3 21.5L296.5 23.3z" fill="#505050"/>
<path d="M293.500 8v12" stroke="#149414" stroke-width="1.300"/><rect x="291.300" y="10.500" width="4.400" height="7.200" fill="#40d840" stroke="#149414" stroke-width=".8"/>
<g stroke="#505050" stroke-width="1.3" fill="none"><path d="M315.5 11V24M313.0 21.5H325.5"/></g>
<path d="M313.7 12.6L315.5 9.8L317.3 12.6zM324.5 19.7L327.3 21.5L324.5 23.3z" fill="#505050"/>
<path d="M314.300 18.600C317 17.500 318.500 13.400 320.300 13.300S323.500 16.500 325.800 17" stroke="#1a9c1a" stroke-width="1.200" fill="none"/>
<rect x="336" y="5" width="1" height="21" fill="#a0a0a0" shape-rendering="crispEdges"/>
<path d="M354.2 17.600L360.2 22.500" stroke="#a87814" stroke-width="3.400"/>
<path d="M354.2 17.600L360 22.300" stroke="#ecd848" stroke-width="1.900"/>
<circle cx="351" cy="13.900" r="5.400" fill="#d8f0fa" stroke="#2c78c0" stroke-width="1.200"/>
<path d="M347.7 13.900h6.600M351 10.600v6.600" stroke="#3888b4" stroke-width="2" fill="none"/>
<path d="M382.09999999999997 17.600L388.09999999999997 22.500" stroke="#a87814" stroke-width="3.400"/>
<path d="M382.09999999999997 17.600L387.9 22.300" stroke="#ecd848" stroke-width="1.900"/>
<circle cx="378.9" cy="13.900" r="5.400" fill="#d8f0fa" stroke="#2c78c0" stroke-width="1.200"/>
<path d="M375.59999999999997 13.900h6.600" stroke="#3888b4" stroke-width="2" fill="none"/>
<rect x="401" y="8" width="8" height="8" rx="1" fill="url(#gGreenT)"/>
<path d="M402.3 15v-3.300q0-.7.7-.7h4.200q.7 0 .7.7v3.300h-1.300v-1h-3v1z" fill="#fff"/><path d="M403.3 12.6h3.600" stroke="#7cc860" stroke-width=".9"/><rect x="402.2" y="9" width="1" height="1" fill="#e8f0ff"/>
<rect x="409" y="8" width="8" height="8" rx="1" fill="url(#gBlueT)"/>
<path d="M410.3 15v-3.300q0-.7.7-.7h4.200q.7 0 .7.7v3.300h-1.300v-1h-3v1z" fill="#fff"/><path d="M411.3 12.6h3.600" stroke="#6088e0" stroke-width=".9"/><rect x="410.2" y="9" width="1" height="1" fill="#e8f0ff"/>
<rect x="401" y="16" width="8" height="8" rx="1" fill="url(#gBlueT)"/>
<path d="M402.3 23v-3.300q0-.7.7-.7h4.200q.7 0 .7.7v3.300h-1.300v-1h-3v1z" fill="#fff"/><path d="M403.3 20.6h3.600" stroke="#6088e0" stroke-width=".9"/><rect x="402.2" y="17" width="1" height="1" fill="#e8f0ff"/>
<rect x="409" y="16" width="8" height="8" rx="1" fill="url(#gGreenT)"/>
<path d="M410.3 23v-3.300q0-.7.7-.7h4.200q.7 0 .7.7v3.300h-1.300v-1h-3v1z" fill="#fff"/><path d="M411.3 20.6h3.600" stroke="#7cc860" stroke-width=".9"/><rect x="410.2" y="17" width="1" height="1" fill="#e8f0ff"/>
<rect x="426" y="5" width="1" height="21" fill="#a0a0a0" shape-rendering="crispEdges"/>
<g shape-rendering="crispEdges"><rect x="431" y="4" width="26" height="22" fill="url(#chk)"/><rect x="431" y="4" width="26" height="1" fill="#a0a0a0"/><rect x="431" y="4" width="1" height="22" fill="#a0a0a0"/><rect x="431" y="25" width="26" height="1" fill="#fff"/><rect x="456" y="4" width="1" height="22" fill="#fff"/></g>
<g stroke="#505050" stroke-width="1.3" fill="none"><path d="M439.5 11V24M437.0 21.5H449.5"/></g>
<path d="M437.7 12.6L439.5 9.8L441.3 12.6zM448.5 19.7L451.3 21.5L448.5 23.3z" fill="#505050"/>
<path d="M444.200 12.400V18.800L448.200 15.600z" fill="#a8e8a8" stroke="#1a9c1a" stroke-width="1.200"/>
<g shape-rendering="crispEdges"><rect x="459" y="4" width="26" height="22" fill="url(#chk)"/><rect x="459" y="4" width="26" height="1" fill="#a0a0a0"/><rect x="459" y="4" width="1" height="22" fill="#a0a0a0"/><rect x="459" y="25" width="26" height="1" fill="#fff"/><rect x="484" y="4" width="1" height="22" fill="#fff"/></g>
<g stroke="#505050" stroke-width="1.3" fill="none"><path d="M467.5 11V24M465.0 21.5H477.5"/></g>
<path d="M465.7 12.6L467.5 9.8L469.3 12.6zM476.5 19.7L479.3 21.5L476.5 23.3z" fill="#505050"/>
<path d="M473.400 10V20" stroke="#1868b0" stroke-width="1.300"/>
<path d="M479.200 15.600h-4" stroke="#c84000" stroke-width="1.200"/><path d="M474.200 15.600l2.600-1.800v3.600z" fill="#c84000"/>
<rect x="488" y="5" width="1" height="21" fill="#a0a0a0" shape-rendering="crispEdges"/>
<path d="M499.400 8.800h7l3.400 3.400v7.800q0 .8-.8.800h-9.600q-.8 0-.8-.8v-10.400q0-.8.8-.8z" fill="url(#gDoc)" stroke="#686868" stroke-width="1.100"/>
<path d="M506.400 8.800v3.400h3.400" fill="#fff" stroke="#686868" stroke-width=".8"/>
<path d="M503.600 11.600c-1.500 0-1.900.9-1.900 2.200v2.600c0 1.200-.3 1.800-1.200 1.900" stroke="#484848" stroke-width="1" fill="none"/><path d="M500.400 14.400h3" stroke="#484848" stroke-width=".9"/>
<path d="M506.200 14.600h4v3.800h3.800v4h-3.800v3.800h-4v-3.800h-3.800v-4h3.800z" fill="url(#gPlus)" stroke="#0a8a0a" stroke-width=".7"/>
<path d="M519.7 15h5.800l-2.900 3.100z" fill="#000"/>
<circle cx="544" cy="16" r="8.100" fill="url(#gClock)"/><circle cx="544" cy="16" r="5" fill="#f0f4fa" stroke="#0c3c90" stroke-width=".5"/>
<path d="M544 11.600v.9M544 19.500v.9M539.600 16h.9M547.500 16h.9" stroke="#7088a8" stroke-width=".8"/>
<path d="M543.600 12.800v3.600h3.200" stroke="#303030" stroke-width="1" fill="none"/>
<path d="M558.6 15h5.800l-2.900 3.100z" fill="#000"/>
<rect x="575.500" y="9.500" width="15" height="13" fill="#fff" stroke="#3c78c8" stroke-width="1"/><rect x="576" y="10" width="14" height="2.200" fill="#5c98e0"/>
<path d="M576 17.300h14" stroke="#3c78c8" stroke-width=".9"/>
<path d="M577.500 15.300l2-.2 1.500-1.200 1.500.2 1.500-1 1.800.8 2.200-1.200" stroke="#8c1c08" stroke-width="1.100" fill="none"/>
<path d="M577.500 20.800l2-.2 1.500-1.200 1.500.6 1.800-1.600 1.500 1.400 1.800 1" stroke="#189018" stroke-width="1.100" fill="none"/>
<path d="M597.6 15h5.800l-2.900 3.100z" fill="#000"/>
<rect x="609" y="3" width="1" height="25" fill="#8c8c8c" shape-rendering="crispEdges"/>
<rect x="610" y="3" width="1" height="25" fill="#fff" shape-rendering="crispEdges"/>
<rect x="613" y="6" width="3" height="1" fill="#a8a8a8" shape-rendering="crispEdges"/>
<rect x="613" y="8" width="3" height="1" fill="#a8a8a8" shape-rendering="crispEdges"/>
<rect x="613" y="10" width="3" height="1" fill="#a8a8a8" shape-rendering="crispEdges"/>
<rect x="613" y="12" width="3" height="1" fill="#a8a8a8" shape-rendering="crispEdges"/>
<rect x="613" y="14" width="3" height="1" fill="#a8a8a8" shape-rendering="crispEdges"/>
<rect x="613" y="16" width="3" height="1" fill="#a8a8a8" shape-rendering="crispEdges"/>
<rect x="613" y="18" width="3" height="1" fill="#a8a8a8" shape-rendering="crispEdges"/>
<rect x="613" y="20" width="3" height="1" fill="#a8a8a8" shape-rendering="crispEdges"/>
<rect x="613" y="22" width="3" height="1" fill="#a8a8a8" shape-rendering="crispEdges"/>
<rect x="613" y="24" width="3" height="1" fill="#a8a8a8" shape-rendering="crispEdges"/>
<g shape-rendering="crispEdges"><rect x="619" y="4" width="26" height="22" fill="url(#chk)"/><rect x="619" y="4" width="26" height="1" fill="#a0a0a0"/><rect x="619" y="4" width="1" height="22" fill="#a0a0a0"/><rect x="619" y="25" width="26" height="1" fill="#fff"/><rect x="644" y="4" width="1" height="22" fill="#fff"/></g>
<path d="M627 8.900V20.200L630 17.600L632.400 22.900L634.200 22L631.800 16.900L635.400 16.600z" fill="#484848"/>
<path d="M659.600 9v5.800M659.600 18v6M652 16.400h6M661.200 16.400h6" stroke="#505050" stroke-width="1.200" fill="none"/><rect x="659.100" y="15.900" width="1" height="1" fill="#505050"/>
<rect x="676" y="5" width="1" height="21" fill="#a0a0a0" shape-rendering="crispEdges"/>
<path d="M693.300 10V23" stroke="#404040" stroke-width="1.250"/>
<path d="M716 16.400h12" stroke="#404040" stroke-width="1.300"/>
<path d="M744 22.900L755.800 10.800" stroke="#505050" stroke-width="1.200"/>
<g stroke="#484848" stroke-width="1" fill="none"><path d="M770 17.800L780 9.500M771.500 21.500L783.500 11.500M773.500 23L784.500 14"/><path d="M773 15.500l1.500 6M776 13l1.500 6M779 10.500l1.500 6M782 9l1 5.500"/></g>
<text x="780.600" y="24.800" style="font-size:6.500px;font-weight:bold;fill:#303030">E</text>
<path d="M799 9.3H812.3" stroke="#484848" stroke-width="1" stroke-dasharray="1 1" shape-rendering="crispEdges"/>
<path d="M799 12.6H812.3" stroke="#484848" stroke-width="1" stroke-dasharray="1 1" shape-rendering="crispEdges"/>
<path d="M799 16.4H812.3" stroke="#484848" stroke-width="1" stroke-dasharray="1 1" shape-rendering="crispEdges"/>
<path d="M799 20.6H808" stroke="#484848" stroke-width="1" stroke-dasharray="1 1" shape-rendering="crispEdges"/>
<text x="808.800" y="24.800" style="font-size:6.500px;font-weight:bold;fill:#303030">F</text>
<text x="829.200" y="20.800" style="font-size:12.300px;fill:#505050;stroke:#505050;stroke-width:.2">A</text>
<rect x="856.500" y="10.500" width="11" height="12" fill="none" stroke="#484848" stroke-width="1" stroke-dasharray="1 1" shape-rendering="crispEdges"/>
<text x="858.600" y="20.800" style="font-size:11.200px;fill:#505050;stroke:#505050;stroke-width:.3">T</text>
<path d="M886.300 9.600l3.400 2.800-3.400 2.800-3.400-2.800zM893.700 17.300l3.400 2.800-3.400 2.800-3.400-2.800z" fill="#484848"/>
<path d="M885.300 17.700l2 2 4-5.200" stroke="#484848" stroke-width="1.300" fill="none"/>
<path d="M903.6 15h5.800l-2.900 3.100z" fill="#000"/>
<rect x="915" y="3" width="1" height="25" fill="#8c8c8c" shape-rendering="crispEdges"/>
<rect x="916" y="3" width="1" height="25" fill="#fff" shape-rendering="crispEdges"/>
<rect x="919" y="6" width="3" height="1" fill="#a8a8a8" shape-rendering="crispEdges"/>
<rect x="919" y="8" width="3" height="1" fill="#a8a8a8" shape-rendering="crispEdges"/>
<rect x="919" y="10" width="3" height="1" fill="#a8a8a8" shape-rendering="crispEdges"/>
<rect x="919" y="12" width="3" height="1" fill="#a8a8a8" shape-rendering="crispEdges"/>
<rect x="919" y="14" width="3" height="1" fill="#a8a8a8" shape-rendering="crispEdges"/>
<rect x="919" y="16" width="3" height="1" fill="#a8a8a8" shape-rendering="crispEdges"/>
<rect x="919" y="18" width="3" height="1" fill="#a8a8a8" shape-rendering="crispEdges"/>
<rect x="919" y="20" width="3" height="1" fill="#a8a8a8" shape-rendering="crispEdges"/>
<rect x="919" y="22" width="3" height="1" fill="#a8a8a8" shape-rendering="crispEdges"/>
<rect x="919" y="24" width="3" height="1" fill="#a8a8a8" shape-rendering="crispEdges"/>
<g shape-rendering="crispEdges"><rect x="1065" y="4" width="26" height="22" fill="url(#chk)"/><rect x="1065" y="4" width="26" height="1" fill="#a0a0a0"/><rect x="1065" y="4" width="1" height="22" fill="#a0a0a0"/><rect x="1065" y="25" width="26" height="1" fill="#fff"/><rect x="1090" y="4" width="1" height="22" fill="#fff"/></g>
<text class="tb" x="930.6" y="20" textLength="12.6" lengthAdjust="spacingAndGlyphs">M1</text>
<text class="tb" x="958.7" y="20" textLength="12.4" lengthAdjust="spacingAndGlyphs">M5</text>
<text class="tb" x="984.6" y="20" textLength="17.6" lengthAdjust="spacingAndGlyphs">M15</text>
<text class="tb" x="1012.2" y="20" textLength="18.3" lengthAdjust="spacingAndGlyphs">M30</text>
<text class="tb" x="1043" y="20" textLength="12" lengthAdjust="spacingAndGlyphs">H1</text>
<text class="tb" x="1070.5" y="20" textLength="12.5" lengthAdjust="spacingAndGlyphs">H4</text>
<text class="tb" x="1099.5" y="20" textLength="11.5" lengthAdjust="spacingAndGlyphs">D1</text>
<text class="tb" x="1127" y="20" textLength="14" lengthAdjust="spacingAndGlyphs">W1</text>
<text class="tb" x="1153" y="20" textLength="14" lengthAdjust="spacingAndGlyphs">MN</text>
<rect x="1176" y="3" width="1" height="25" fill="#8c8c8c" shape-rendering="crispEdges"/>
<rect x="1177" y="3" width="1" height="25" fill="#fff" shape-rendering="crispEdges"/>
<path d="M1643.300 16.800L1639.500 20.500" stroke="#2050c8" stroke-width="2.600" stroke-linecap="round"/><circle cx="1646.600" cy="13.400" r="3.600" fill="#f4f6fc" stroke="#2c5cd0" stroke-width="1.300"/>
<path d="M1667 22l-.6 2.600 2.800-2.200" fill="#d0d0dc" stroke="#a8a8a8" stroke-width=".7"/><ellipse cx="1668" cy="17.800" rx="4.800" ry="4.300" fill="#ececf4" stroke="#b0b0b0" stroke-width=".9"/>
<circle cx="1677.400" cy="13.200" r="8.100" fill="url(#gRed)"/>
<text x="1677.400" y="17.900" text-anchor="middle" style="font-family:&quot;Liberation Serif&quot;,serif;font-size:13px;fill:#fff;stroke:#fff;stroke-width:.45px">1</text>
</svg></body></html>
